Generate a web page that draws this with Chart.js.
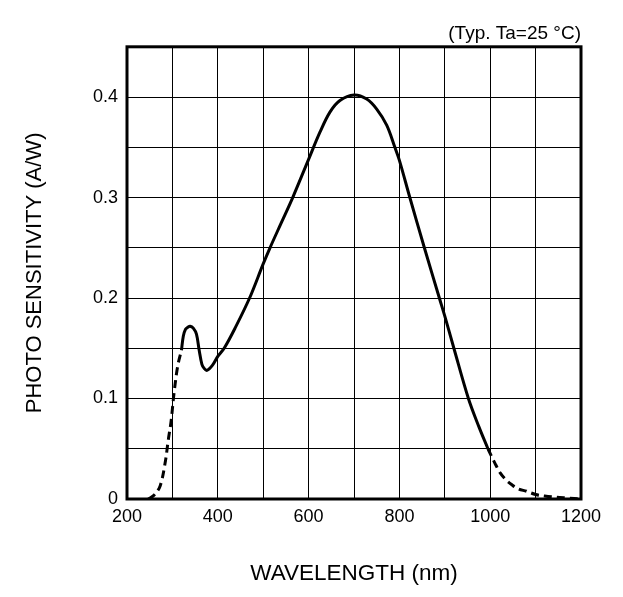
<!DOCTYPE html>
<html>
<head>
<meta charset="utf-8">
<script src="https://cdn.jsdelivr.net/npm/chart.js@4.4.1/dist/chart.umd.min.js"></script>
<style>
  body { margin: 0; background: #fff; }
  #wrap { width: 623px; height: 597px; }
</style>
</head>
<body>
<div id="wrap"><canvas id="chart" width="623" height="597"></canvas></div>
<script>
// wavelength (nm) / photo sensitivity (A/W)
const uvDashNm = [247, 260, 273, 284, 291, 297, 304, 312, 320];
const uvDashVal = [0, 0.004, 0.013, 0.036, 0.059, 0.077, 0.107, 0.133, 0.148];

const mainNm = [320, 324, 329, 334, 339, 346, 353, 359, 365, 370, 376, 388, 400, 414, 438,
  470, 500, 515, 540, 565, 600, 625, 647, 669, 700, 728, 750, 772, 790, 800,
  823, 855, 888, 900, 920, 952, 975, 995];
const mainVal = [0.148, 0.162, 0.169, 0.171, 0.172, 0.170, 0.164, 0.148, 0.134, 0.130, 0.128,
  0.133, 0.142, 0.150, 0.170, 0.200, 0.234, 0.250, 0.275, 0.300, 0.338, 0.365, 0.385, 0.3965,
  0.402, 0.398, 0.388, 0.372, 0.350, 0.337, 0.300, 0.250, 0.200, 0.182, 0.150,
  0.100, 0.072, 0.050];

const irDashNm = [995, 1010, 1022, 1035, 1047, 1062, 1080, 1100, 1120, 1146, 1170, 1200];
const irDashVal = [0.050, 0.036, 0.026, 0.019, 0.0144, 0.010, 0.0077, 0.0045, 0.003, 0.0018, 0.001, 0];

const xLabels = [200, 400, 600, 800, 1000, 1200];
const yLabels = [0, 0.1, 0.2, 0.3, 0.4];

const FONT = "'Liberation Sans', Arial, sans-serif";

const toPoints = (xs, ys) => xs.map((x, i) => ({ x: x, y: ys[i] }));

// thick frame round the plot area
const framePlugin = {
  id: "frame",
  afterDraw(chart) {
    const { ctx, chartArea: a } = chart;
    ctx.save();
    ctx.strokeStyle = "#000";
    ctx.lineWidth = 3;
    ctx.strokeRect(a.left, a.top, a.right - a.left, a.bottom - a.top);
    ctx.restore();
  },
};

const lineStyle = {
  borderColor: "#000",
  borderWidth: 3,
  pointRadius: 0,
  fill: false,
  tension: 0.35,
};

new Chart(document.getElementById("chart").getContext("2d"), {
  type: "line",
  data: {
    datasets: [
      { ...lineStyle, data: toPoints(uvDashNm, uvDashVal), borderDash: [8, 5] },
      { ...lineStyle, data: toPoints(mainNm, mainVal) },
      { ...lineStyle, data: toPoints(irDashNm, irDashVal), borderDash: [8, 5] },
    ],
  },
  options: {
    responsive: false,
    animation: false,
    devicePixelRatio: 1,
    layout: { padding: { top: 0, right: 42, bottom: 0, left: 0 } },
    plugins: {
      legend: { display: false },
      tooltip: { enabled: false },
      title: {
        display: true,
        text: "(Typ. Ta=25 °C)",
        align: "end",
        color: "#000",
        font: { family: FONT, size: 19, weight: "normal" },
        padding: { top: 22, bottom: 2 },
      },
    },
    scales: {
      x: {
        type: "linear",
        min: 200,
        max: 1200,
        afterFit: (s) => { s.height = 98; s.paddingLeft = 0; s.paddingRight = 0; },
        border: { display: false },
        grid: { color: "#000", lineWidth: 1, drawTicks: false },
        ticks: {
          stepSize: 100,
          autoSkip: false,
          maxRotation: 0,
          padding: 7,
          color: "#000",
          font: { family: FONT, size: 18 },
          callback: (v) => (xLabels.includes(v) ? String(v) : ""),
        },
        title: {
          display: true,
          text: "WAVELENGTH (nm)",
          color: "#000",
          font: { family: FONT, size: 22.5 },
          padding: { top: 0, bottom: 10 },
        },
      },
      y: {
        min: 0,
        max: 0.45,
        afterFit: (s) => { s.width = 127; s.paddingTop = 0; s.paddingBottom = 0; },
        border: { display: false },
        grid: { color: "#000", lineWidth: 1, drawTicks: false },
        ticks: {
          stepSize: 0.05,
          autoSkip: false,
          padding: 9,
          color: "#000",
          font: { family: FONT, size: 18 },
          callback: (v) => {
            const hit = yLabels.find((l) => Math.abs(l - v) < 1e-6);
            return hit === undefined ? "" : String(hit);
          },
        },
        title: {
          display: true,
          text: "PHOTO SENSITIVITY (A/W)",
          color: "#000",
          font: { family: FONT, size: 22 },
          padding: { top: 22, bottom: 0 },
        },
      },
    },
  },
  plugins: [framePlugin],
});
</script>
</body>
</html>
